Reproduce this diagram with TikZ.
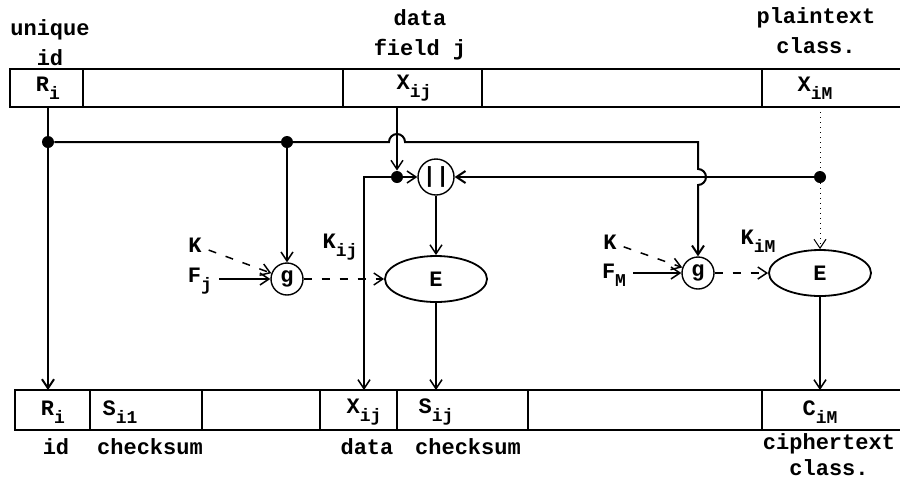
\documentclass[tikz,border=0pt]{standalone}
\usepackage{fontspec}
\setmonofont{Liberation Mono}
\usetikzlibrary{arrows.meta, positioning, shapes.geometric}
\newcommand{\sub}[1]{\raisebox{-0.7ex}{\fontsize{9}{9}\selectfont #1}}

\begin{document}
\begin{tikzpicture}[
  x=0.5pt, y=-0.5pt,
  font=\ttfamily\bfseries\fontsize{11}{15}\selectfont,
  >={Straight Barb[length=4.5pt,width=6pt]},
  rec/.style={line width=1.1pt},
  divider/.style={line width=0.7pt},
  field/.style={inner sep=1pt},
  caption/.style={align=center, inner sep=1pt},
  fn/.style={draw, circle, line width=0.7pt, minimum size=16pt, inner sep=0pt},
  catfn/.style={fn, minimum size=18pt},
  enc/.style={draw, ellipse, line width=0.9pt, minimum width=51pt, minimum height=23pt, inner sep=0pt},
  dot/.style={circle, fill, inner sep=0pt, minimum size=6pt},
  flow/.style={->, line width=0.75pt},
  bus/.style={->, line width=1pt},
  keyflow/.style={->, line width=0.75pt, dash pattern=on 4pt off 5pt},
  faint/.style={->, line width=0.5pt, dotted}
]
\useasboundingbox (0,0) rectangle (900,479);

% Input record with its fields.
\draw[rec] (900,69) -- (10,69) -- (10,107) -- (900,107);
\foreach \x in {83,343,482,762} \draw[divider] (\x,69) -- (\x,107);
\coordinate (inbot) at (0,107);

\node[field] (ri) at (48,88) {R\sub{i}};
\node[field] (xij) at (414,88) {X\sub{ij}};
\node[field] (xim) at (815,88) {X\sub{iM}};

\node[caption] (cid) at (50,43) {unique\\id};
\node[caption] (cdata) at (420,35) {data\\field j};
\node[caption] (cplain) at (816,31) {plaintext\\class.};

% Output record with its fields.
\draw[rec] (900,390) -- (15,390) -- (15,430) -- (900,430);
\foreach \x in {90,202,320,397,528,762} \draw[divider] (\x,390) -- (\x,430);
\coordinate (otop) at (0,390);

\node[field] (ori) at (53,412) {R\sub{i}};
\node[field] (osi) at (120,412) {S\sub{i1}};
\node[field] (oxij) at (364,412) {X\sub{ij}};
\node[field] (osij) at (436,412) {S\sub{ij}};
\node[field] (ocim) at (820,412) {C\sub{iM}};

\node[caption] (oid) at (56,447) {id};
\node[caption] (ochk) at (150,447) {checksum};
\node[caption] (odata) at (367,447) {data};
\node[caption] (ochkj) at (468,447) {checksum};
\node[caption] (ociph) at (829,455) {ciphertext\\[-2pt]class.};

% Junctions, key generators and encryption boxes.
\node[dot] (did) at (48,142) {};
\node[dot] (dkey) at (287,142) {};
\node[dot] (dx) at (397,177) {};
\node[dot] (dm) at (820,177) {};
\node[catfn] (cat) at (436,177) {||};

\node[fn] (g1) at (287,279) {g};
\node[enc] (e1) at (436,279) {E};
\node[fn] (g2) at (698,273) {g};
\node[enc] (e2) at (820,273) {E};

\node (k1) at (195,245) {K};
\node (f1) at (200,281) {F\sub{j}};
\node (kij) at (340,247) {K\sub{ij}};
\node (k2) at (610,242) {K};
\node (f2) at (614,275) {F\sub{M}};
\node (kim) at (758,241) {K\sub{iM}};

% Identifier goes straight through and feeds both key generators.
\draw[bus] (did |- inbot) -- (did) -- (did |- otop);
\draw[bus] (did) -- ([xshift=-4pt]dx |- did)
  arc[start angle=180, end angle=0, radius=4pt]
  -- (g2 |- did) -- ([yshift=4pt]g2 |- dm)
  arc[start angle=90, end angle=-90, radius=4pt] -- (g2);
\draw[flow] (dkey) -- (g1);

% Data field j: copied out and concatenated with the class.
\draw[flow] (dx |- inbot) -- (dx);
\draw[flow] (dx) -- (cat);
\draw[flow] (dx) -- (oxij |- dx) -- (oxij |- otop);
\draw[faint] (dm |- inbot) -- (dm) -- (e2);
\draw[bus] (dm) -- (cat);
\draw[flow] (cat) -- (e1);
\draw[flow] (e1) -- (e1 |- otop);
\draw[flow] (e2) -- (e2 |- otop);

% Field keys.
\draw[keyflow] (k1) -- (g1);
\draw[flow] (f1.east |- g1) -- (g1);
\draw[keyflow] (g1) -- (e1);
\draw[keyflow] (k2) -- (g2);
\draw[flow] (f2.east |- g2) -- (g2);
\draw[keyflow] (g2) -- (e2);

\end{tikzpicture}
\end{document}
